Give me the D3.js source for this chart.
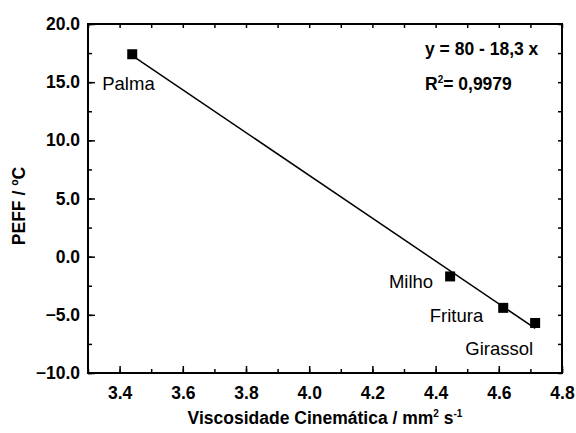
<!DOCTYPE html>
<html>
<head>
<meta charset="utf-8">
<script src="https://cdn.jsdelivr.net/npm/d3@7"></script>
<style>
  body { margin: 0; background: #fff; }
  text { font-family: "Liberation Sans", Arial, sans-serif; }
</style>
</head>
<body>
<svg width="576" height="433"></svg>
<script>
// data
var oils = ["Palma", "Milho", "Fritura", "Girassol"];
var viscosity = [3.44, 4.446, 4.614, 4.715];
var peff = [17.4, -1.7, -4.4, -5.7];
var xTicks = [3.4, 3.6, 3.8, 4.0, 4.2, 4.4, 4.6, 4.8];
var yTicks = [-10, -5, 0, 5, 10, 15, 20];

var svg = d3.select("svg"),
    margin = {top: 24, right: 14, bottom: 60, left: 88},
    width = +svg.attr("width") - margin.left - margin.right,
    height = +svg.attr("height") - margin.top - margin.bottom;

var x = d3.scaleLinear().domain([3.3, 4.8]).range([0, width]);
var y = d3.scaleLinear().domain([-10, 20]).range([height, 0]);

var g = svg.append("g")
    .attr("transform", "translate(" + margin.left + "," + margin.top + ")");

var xMinor = d3.range(33, 49).map(function(d) { return d / 10; });
var yMinor = d3.range(-10, 20.1, 2.5);

function styleAxis(sel) {
    sel.select(".domain").remove();
    sel.selectAll("line").attr("stroke", "#000").attr("stroke-width", 1.5);
    sel.selectAll("text")
        .style("font-family", "'Liberation Sans', Arial, sans-serif")
        .style("font-weight", "bold")
        .style("font-size", "17.5px")
        .attr("fill", "#000");
}

// minor ticks
g.append("g").attr("transform", "translate(0," + height + ")")
    .call(d3.axisBottom(x).tickValues(xMinor).tickSize(-4).tickFormat(""))
    .call(styleAxis);
g.append("g")
    .call(d3.axisTop(x).tickValues(xMinor).tickSize(-4).tickFormat(""))
    .call(styleAxis);
g.append("g")
    .call(d3.axisLeft(y).tickValues(yMinor).tickSize(-4).tickFormat(""))
    .call(styleAxis);
g.append("g").attr("transform", "translate(" + width + ",0)")
    .call(d3.axisRight(y).tickValues(yMinor).tickSize(-4).tickFormat(""))
    .call(styleAxis);

// major ticks
g.append("g")
    .attr("class", "axis axis--x")
    .attr("transform", "translate(0," + height + ")")
    .call(d3.axisBottom(x).tickValues(xTicks).tickSize(-7).tickPadding(14).tickFormat(d3.format(".1f")))
    .call(styleAxis);
g.append("g")
    .attr("class", "axis axis--y")
    .call(d3.axisLeft(y).tickValues(yTicks).tickSize(-7).tickPadding(8).tickFormat(d3.format(".1f")))
    .call(styleAxis);

// frame
g.append("rect")
    .attr("width", width).attr("height", height)
    .attr("fill", "none").attr("stroke", "#000").attr("stroke-width", 2);

// least squares line through the points
var mx = d3.mean(viscosity), my = d3.mean(peff),
    sxy = d3.sum(viscosity, function(v, i) { return (v - mx) * (peff[i] - my); }),
    sxx = d3.sum(viscosity, function(v) { return (v - mx) * (v - mx); }),
    slope = sxy / sxx, icpt = my - slope * mx;
var ends = d3.extent(viscosity);

g.append("path")
    .datum(ends)
    .attr("fill", "none")
    .attr("stroke", "#000")
    .attr("stroke-width", 1.5)
    .attr("d", d3.line()
        .x(function(d) { return x(d); })
        .y(function(d) { return y(icpt + slope * d); }));

var pts = oils.map(function(o, i) { return {name: o, v: viscosity[i], p: peff[i]}; });

g.selectAll(".pt")
    .data(pts)
    .enter().append("rect")
    .attr("class", "pt")
    .attr("x", function(d) { return x(d.v) - 5; })
    .attr("y", function(d) { return y(d.p) - 5; })
    .attr("width", 10).attr("height", 10)
    .attr("fill", "#000");

// label offsets from each point
var labelPos = {
    "Palma":    {dx: -30, dy: 36, anchor: "start"},
    "Milho":    {dx: -17, dy: 12, anchor: "end"},
    "Fritura":  {dx: -20, dy: 14, anchor: "end"},
    "Girassol": {dx: -2,  dy: 32, anchor: "end"}
};

g.selectAll(".lbl")
    .data(pts)
    .enter().append("text")
    .attr("class", "lbl")
    .attr("x", function(d) { return x(d.v) + labelPos[d.name].dx; })
    .attr("y", function(d) { return y(d.p) + labelPos[d.name].dy; })
    .attr("text-anchor", function(d) { return labelPos[d.name].anchor; })
    .style("font-size", "18.5px")
    .text(function(d) { return d.name; });

// equation
var eq = g.append("g").style("font-weight", "bold").style("font-size", "17.5px");
eq.append("text").attr("x", 337).attr("y", 31).text("y = 80 - 18,3 x");
var r2 = eq.append("text").attr("x", 337).attr("y", 66);
r2.append("tspan").text("R");
r2.append("tspan").attr("dy", -7).style("font-size", "10px").text("2");
r2.append("tspan").attr("dy", 7).text("= 0,9979");

// axis titles
var xt = svg.append("text")
    .attr("x", margin.left + width / 2)
    .attr("y", 424)
    .attr("text-anchor", "middle")
    .style("font-weight", "bold")
    .style("font-size", "17.5px");
xt.append("tspan").text("Viscosidade Cinemática / mm");
xt.append("tspan").attr("dy", -7).style("font-size", "10px").text("2");
xt.append("tspan").attr("dy", 7).text(" s");
xt.append("tspan").attr("dy", -7).style("font-size", "10px").text("-1");

svg.append("text")
    .attr("transform", "translate(25," + 206 + ") rotate(-90)")
    .attr("text-anchor", "middle")
    .style("font-weight", "bold")
    .style("font-size", "17.5px")
    .text("PEFF / ºC");
</script>
</body>
</html>
